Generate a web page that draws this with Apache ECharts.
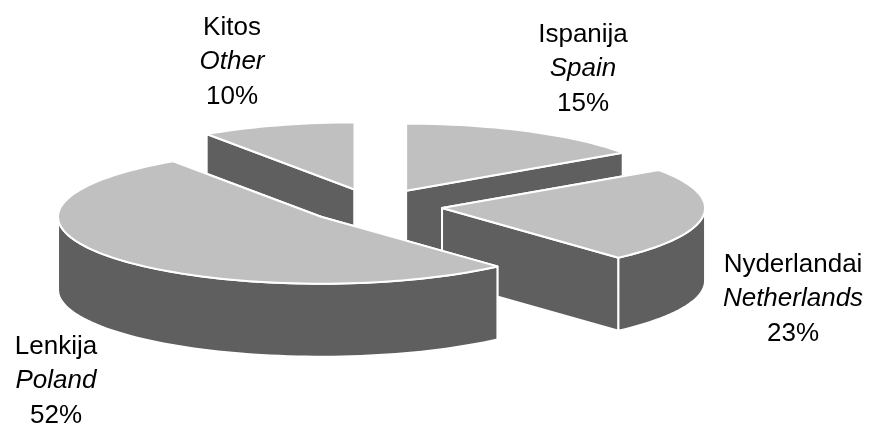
<!DOCTYPE html>
<html>
<head>
<meta charset="utf-8">
<style>html,body{margin:0;padding:0;background:#fff}#c{width:872px;height:426px}</style>
<script src="https://cdn.jsdelivr.net/npm/echarts@6/dist/echarts.min.js"></script>
</head>
<body>
<div id="c"></div>
<script>
// data
const namesLt = ['Ispanija', 'Nyderlandai', 'Lenkija', 'Kitos'];
const namesEn = ['Spain', 'Netherlands', 'Poland', 'Other'];
const percentLabels = ['15%', '23%', '52%', '10%'];
const shares = [15.4, 22.9, 52.2, 9.5];
// layout and styles
const labelCentres = [[583, 69], [793, 299], [56, 381], [232, 62]];
const drawOrder = [3, 0, 1, 2];
const geo = {cx: 374.5, cy: 206, rx: 263, ry: 67, depth: 73, explode: 68};
const topColor = '#c0c0c0', sideColor = '#5f5f5f';

const total = shares.reduce((a, b) => a + b, 0);
const starts = [];
shares.reduce((acc, v, i) => { starts[i] = acc; return acc + v; }, 0);

function pt(ax, ay, deg) {
  const t = deg * Math.PI / 180;
  return [ax + geo.rx * Math.sin(t), ay - geo.ry * Math.cos(t)];
}
function arc(ax, ay, a0, a1) {
  const n = Math.max(2, Math.ceil(Math.abs(a1 - a0) / 2));
  const out = [];
  for (let k = 0; k <= n; k++) out.push(pt(ax, ay, a0 + (a1 - a0) * k / n));
  return out;
}
function poly(points, fill, z) {
  return {type: 'polygon', shape: {points}, z2: z,
    style: {fill, stroke: '#fff', lineWidth: 2, lineJoin: 'round'}};
}
function renderItem(params, api) {
  const idx = api.value(0), value = api.value(1);
  const a0 = starts[idx] / total * 360;
  const a1 = a0 + value / total * 360;
  const mid = (a0 + a1) / 2 * Math.PI / 180;
  const ax = geo.cx + geo.explode * Math.sin(mid);
  const ay = geo.cy - geo.explode * geo.ry / geo.rx * Math.cos(mid);
  const d = geo.depth;
  const down = p => [p[0], p[1] + d];
  const children = [];
  [a0, a1].forEach(a => {
    const p = pt(ax, ay, a);
    children.push(poly([[ax, ay], p, down(p), [ax, ay + d]], sideColor, 1));
  });
  const r0 = Math.max(a0, 90), r1 = Math.min(a1, 270);
  if (r1 > r0) {
    const rim = arc(ax, ay, r0, r1);
    children.push(poly(rim.concat(rim.slice().reverse().map(down)), sideColor, 2));
  }
  children.push(poly([[ax, ay]].concat(arc(ax, ay, a0, a1)), topColor, 3));
  const c = labelCentres[idx];
  children.push({
    type: 'text', z2: 4, x: c[0], y: c[1],
    style: {
      text: '{a|' + namesLt[idx] + '}\n{b|' + namesEn[idx] + '}\n{a|' + percentLabels[idx] + '}',
      align: 'center', verticalAlign: 'middle',
      rich: {
        a: {fontFamily: 'Liberation Sans', fontSize: 26, lineHeight: 34.5, fill: '#000', align: 'center'},
        b: {fontFamily: 'Liberation Sans', fontSize: 26, fontStyle: 'italic', lineHeight: 34.5, fill: '#000', align: 'center'}
      }
    }
  });
  return {type: 'group', children};
}

const chart = echarts.init(document.getElementById('c'), null, {renderer: 'canvas'});
chart.setOption({
  animation: false,
  backgroundColor: '#fff',
  series: [{
    type: 'custom',
    coordinateSystem: 'none',
    renderItem,
    data: drawOrder.map(i => [i, shares[i]])
  }]
});
</script>
</body>
</html>
